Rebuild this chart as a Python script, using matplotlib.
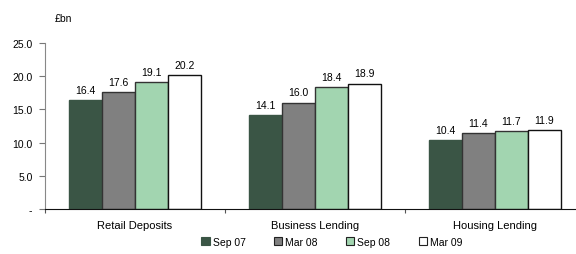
import numpy as np
import matplotlib.pyplot as plt
from matplotlib.patches import Patch

plt.rcParams['font.family'] = ['Liberation Sans', 'DejaVu Sans']

# data
categories = ["Retail Deposits", "Business Lending", "Housing Lending"]
periods = ["Sep 07", "Mar 08", "Sep 08", "Mar 09"]
sep07 = [16.4, 14.1, 10.4]
mar08 = [17.6, 16.0, 11.4]
sep08 = [19.1, 18.4, 11.7]
mar09 = [20.2, 18.9, 11.9]
series = [sep07, mar08, sep08, mar09]
colors = ["#3a5545", "#808080", "#a2d5b0", "#ffffff"]
edges = ["#3a5545", "#333333", "#333333", "#111111"]

fig = plt.figure(figsize=(5.76, 2.55), dpi=100)
ax = fig.add_axes([45 / 576, 45 / 255, 540 / 576, 166 / 255])

x = np.arange(len(categories)) + 0.5
w = 33 / 180
for i, vals in enumerate(series):
    pos = x + (i - 1.5) * w
    ax.bar(pos, vals, width=w, color=colors[i], edgecolor=edges[i], linewidth=1.0, zorder=2)
    for p, v in zip(pos, vals):
        ax.text(p, v + 0.8, f"{v:.1f}", ha="center", va="bottom", fontsize=7.5)

ax.set_xlim(0, 3)
ax.set_ylim(0, 25)
ax.set_yticks([0, 5, 10, 15, 20, 25])
ax.set_yticklabels(["-", "5.0", "10.0", "15.0", "20.0", "25.0"], fontsize=7.5)
ax.set_xticks([0, 1, 2, 3])
ax.set_xticklabels([])
ax.set_xticks(x, minor=True)
ax.set_xticklabels(categories, minor=True, fontsize=8)
ax.tick_params(axis="x", which="minor", length=0, pad=8)
ax.tick_params(axis="x", which="major", length=3, direction="out", color="#555555")
ax.tick_params(axis="y", length=4, direction="out", color="#777777", pad=5)

for s in ["top", "right"]:
    ax.spines[s].set_visible(False)
ax.spines["left"].set_color("#888888")
ax.spines["bottom"].set_color("#111111")

fig.text(55 / 576, 1 - 19 / 255, "£bn", fontsize=7.5, va="center")

handles = [Patch(facecolor=c, edgecolor=("#3a5545" if i == 0 else "#222222"), linewidth=0.8)
           for i, c in enumerate(colors)]
fig.legend(handles, periods, loc="center", bbox_to_anchor=(332 / 576, 1 - 243 / 255),
           ncol=4, frameon=False, fontsize=7.5, handlelength=0.8, handleheight=0.8,
           handletextpad=0.3, columnspacing=2.7)

fig.savefig("out.png", dpi=100)
